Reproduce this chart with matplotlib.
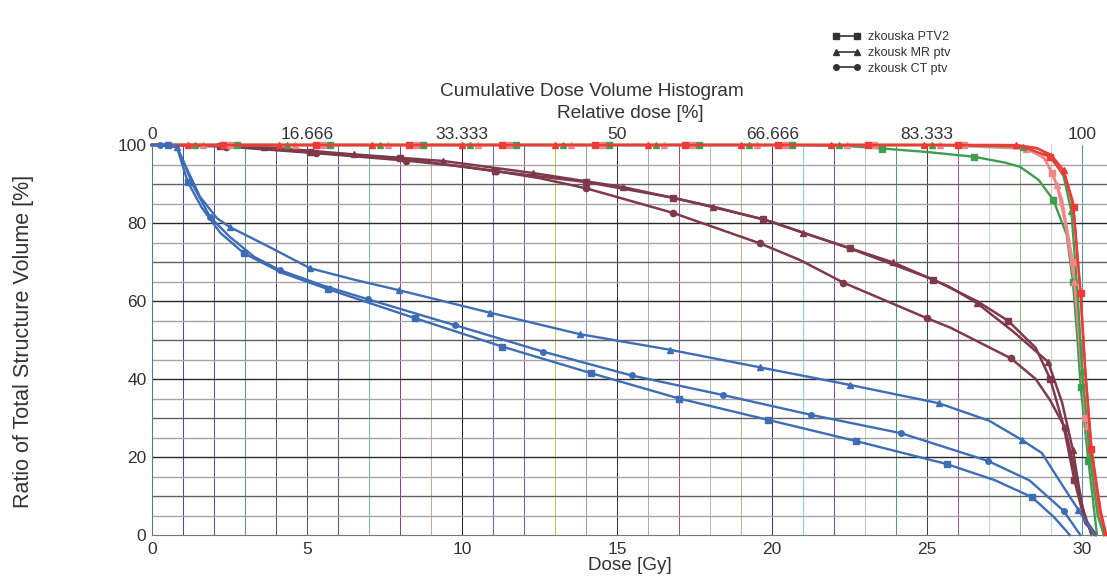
import matplotlib
matplotlib.use('Agg')
import matplotlib.pyplot as plt
from matplotlib.lines import Line2D

plt.rcParams['font.family'] = ['Liberation Sans', 'DejaVu Sans']

# osy
dose_ticks = [0, 5, 10, 15, 20, 25, 30]
rel_labels = ['0', '16.666', '33.333', '50', '66.666', '83.333', '100']
vol_ticks = [0, 20, 40, 60, 80, 100]
legend_names = ['zkouska PTV2', 'zkousk MR ptv', 'zkousk CT ptv']

# modre krivky (organ)
blue_tri_d = [0, 0.3, 0.55, 0.8, 1.0, 1.55, 2.1, 2.5, 3.7, 5.1, 6.5, 7.95, 10.9, 13.8, 16.7, 19.6,
              22.5, 25.37, 27.0, 28.05, 28.7, 29.3, 29.88, 30.4]
blue_tri_v = [100, 100, 100, 99.5, 96, 86.7, 81.2, 79, 74.2, 68.4, 65.5, 62.8, 57.0, 51.5, 47.5, 43.0,
              38.5, 33.8, 29.3, 24.4, 21.0, 13.5, 6.4, 0]
blue_tri_mk = [3, 7, 9, 11, 12, 13, 14, 15, 16, 17, 19, 22]

blue_ci_d = [0, 0.25, 0.8, 1.0, 1.3, 1.87, 2.5, 3.3, 4.13, 5.5, 6.98, 9.77, 12.62, 15.47, 18.41, 21.26,
             24.16, 26.96, 28.3, 29.4, 29.94]
blue_ci_v = [100, 100, 99.5, 96, 90, 81.6, 76.5, 71.3, 67.9, 64, 60.4, 53.8, 47.0, 40.9, 35.9, 30.8,
             26.1, 19.0, 14.0, 6.2, 0]
blue_ci_mk = [1, 5, 8, 10, 11, 12, 13, 14, 15, 16, 17, 19]

blue_sq_d = [0, 0.5, 0.8, 1.15, 1.6, 2.2, 2.97, 4.2, 5.69, 8.48, 11.3, 14.16, 17.0, 19.88, 22.7, 25.63,
             27.2, 28.38, 29.1, 29.6]
blue_sq_v = [100, 100, 99.5, 90.6, 84, 77.5, 72.2, 67.2, 63.0, 55.6, 48.3, 41.5, 35.0, 29.5, 24.1, 18.2,
             14.0, 9.7, 4.5, 0]
blue_sq_mk = [1, 3, 6, 8, 9, 10, 11, 12, 13, 14, 15, 17]

# hnede krivky
brA_d = [0, 1.5, 3.6, 6.5, 9.4, 12.3, 15.2, 18.1, 20.0, 21.0, 23.9, 25.7, 26.6, 27.8, 28.9, 29.35,
         29.7, 30.0, 30.3]
brA_v = [100, 100, 99.5, 97.6, 95.9, 92.8, 89.2, 84.2, 80.3, 77.5, 69.9, 63.7, 59.5, 52.0, 44.4, 34.0,
         21.8, 7.3, 0]
brA_mk = [2, 3, 4, 5, 6, 7, 9, 10, 12, 14, 16]

brB_d = [0, 2.2, 5.1, 8.0, 11.06, 14.0, 16.8, 19.7, 22.5, 25.2, 26.6, 27.6, 28.5, 28.97, 29.4, 29.75,
         30.1, 30.45]
brB_v = [100, 99.8, 98.2, 96.6, 93.3, 90.5, 86.5, 81.0, 73.5, 65.5, 60.0, 55.0, 48.0, 40.0, 28.0, 14.0,
         3.0, 0]
brB_mk = [1, 2, 3, 4, 5, 6, 7, 8, 9, 11, 13, 15]

brC_d = [0, 2.4, 5.3, 8.2, 10.0, 11.1, 12.5, 14.0, 16.8, 19.6, 20.9, 22.3, 24.99, 25.74, 27.7, 28.5,
         28.97, 29.45, 29.8, 30.1, 30.45]
brC_v = [100, 99.6, 97.9, 96.0, 94.5, 93.3, 91.5, 88.9, 82.6, 74.8, 70.5, 64.7, 55.6, 53.2, 45.3, 40.0,
         34.5, 27.4, 15.0, 4.0, 0]
brC_mk = [1, 2, 3, 5, 7, 8, 9, 11, 12, 14, 17]

# PTV krivky
red_tri_d = [0, 1.15, 4.1, 7.1, 10.0, 13.0, 16.0, 19.0, 21.9, 24.9, 27.85, 28.5, 29.0, 29.4, 29.7,
             29.94, 30.1, 30.3, 30.55, 30.75]
red_tri_v = [100, 100, 100, 100, 100, 100, 100, 100, 100, 100, 100, 99.3, 97.5, 93.5, 85.5,
             62.4, 42.0, 22.0, 7.0, 0]
red_tri_mk = [1, 2, 3, 4, 5, 6, 7, 8, 9, 10, 13, 15, 17]

green_tri_d = [0, 1.4, 4.35, 7.35, 10.25, 13.25, 16.25, 19.25, 22.15, 25.15, 28.1, 28.6, 29.0, 29.4,
               29.65, 29.85, 30.0, 30.25, 30.5, 30.7]
green_tri_v = [100, 100, 100, 100, 100, 100, 100, 100, 100, 100, 99.6, 99.0, 97.0, 92.0,
               83.0, 62.0, 42.0, 20.0, 5.0, 0]
green_tri_mk = [1, 2, 3, 4, 5, 6, 7, 8, 9, 10, 14, 16, 17]

pink_tri_d = [0, 1.65, 4.6, 7.6, 10.5, 13.5, 16.5, 19.5, 22.4, 25.4, 28.2, 28.8, 29.18, 29.45, 29.75,
              29.95, 30.15, 30.45, 30.7]
pink_tri_v = [100, 100, 100, 100, 100, 100, 100, 100, 100, 100, 99.0, 96.5, 89.7, 80.0, 65.0,
              48.0, 28.0, 9.0, 0]
pink_tri_mk = [1, 2, 3, 4, 5, 6, 7, 8, 9, 10, 12, 14, 16]

red_sq_d = [0, 2.3, 5.3, 8.3, 11.3, 14.3, 17.2, 20.2, 23.1, 26.0, 28.0, 28.95, 29.45, 29.72, 29.95,
            30.1, 30.3, 30.6, 30.78]
red_sq_v = [100, 100, 100, 100, 100, 100, 100, 100, 100, 100, 99.8, 97.0, 92.0, 84.0, 62.0,
            42.0, 22.0, 6.0, 0]
red_sq_mk = [1, 2, 3, 4, 5, 6, 7, 8, 9, 11, 13, 14, 16]

pink_sq_d = [0, 2.5, 5.5, 8.5, 11.5, 14.5, 17.4, 20.4, 23.3, 26.2, 27.4, 28.2, 28.7, 29.04, 29.35,
             29.7, 29.9, 30.1, 30.4, 30.7]
pink_sq_v = [100, 100, 100, 100, 100, 100, 100, 100, 100, 100, 100, 99.3, 97.5, 92.9, 86.0,
             70.0, 50.0, 30.0, 10.0, 0]
pink_sq_mk = [1, 2, 3, 4, 5, 6, 7, 8, 9, 13, 15, 17]

green_sq_d = [0, 2.75, 5.75, 8.75, 11.75, 14.75, 17.65, 20.65, 22.5, 23.55, 25.0, 26.5, 27.5, 28.0,
              28.6, 29.07, 29.5, 29.7, 29.85, 29.95, 30.2, 30.47]
green_sq_v = [100, 100, 100, 100, 100, 100, 100, 100, 99.7, 99.1, 98.2, 97.0, 95.5, 94.4,
              91.0, 85.9, 77.0, 65.0, 50.0, 38.0, 19.0, 0.5]
green_sq_mk = [1, 2, 3, 4, 5, 6, 7, 9, 11, 15, 17, 19, 20]

BLUE = '#3d6db5'
BROWN = '#7e3a4a'
RED = '#ee3b36'
PINK = '#f4868a'
GREEN = '#3e9e4e'
TXT = '#333333'

# barvy svislych car mrizky (0..30 Gy)
vgrid_colors = ['#4a7f9a', '#4b4fa8', '#5a4f9a', '#5c9a86', '#6a4a9a', '#3f5f7a', '#6c4fa6',
                '#7fb3a8', '#9a3f8a', '#c8a890', '#222222', '#5a6fc0', '#7a5aa8', '#b8c86a',
                '#8aa0d8', '#2f3a2a', '#9ab8a0', '#a0508f', '#a8c8a8', '#c8b090', '#4a2f6a',
                '#8ad0e0', '#7a4fa0', '#b0d0c0', '#5a9a6a', '#3a4a3a', '#9a5aa0', '#b8d8d0',
                '#8ac080', '#c0d8c0', '#5a90b0']

fig = plt.figure(figsize=(11.07, 5.79), dpi=100)
ax = fig.add_axes([152/1107, 44/579, 955/1107, 390/579])
ax.set_xlim(0, 30.8)
ax.set_ylim(0, 100)

for i in range(1, 31):
    ax.axvline(i, color=vgrid_colors[i], lw=0.75, zorder=0)
for v in range(5, 100, 5):
    if v % 20 == 0:
        c = '#2a2a2a'
    elif v % 10 == 0:
        c = '#606060'
    else:
        c = '#a5a5a5'
    ax.axhline(v, color=c, lw=1.0, zorder=0)

def dvh(d, v, color, marker, mk, lw=1.7, ms=4.5, z=2):
    ax.plot(d, v, color=color, lw=lw, zorder=z, clip_on=False)
    ax.plot(d, v, ls='none', marker=marker, ms=ms, color=color, markevery=mk,
            zorder=z + 0.5, clip_on=False)

dvh(brC_d, brC_v, BROWN, 'o', brC_mk, lw=1.8)
dvh(brB_d, brB_v, BROWN, 's', brB_mk, lw=1.8)
dvh(brA_d, brA_v, BROWN, '^', brA_mk, lw=1.8)

dvh(green_sq_d, green_sq_v, GREEN, 's', green_sq_mk, z=3)
dvh(pink_sq_d, pink_sq_v, PINK, 's', pink_sq_mk, z=3)
dvh(pink_tri_d, pink_tri_v, PINK, '^', pink_tri_mk, z=3)
dvh(green_tri_d, green_tri_v, GREEN, '^', green_tri_mk, z=3)
dvh(red_sq_d, red_sq_v, RED, 's', red_sq_mk, z=4)
dvh(red_tri_d, red_tri_v, RED, '^', red_tri_mk, z=4)

dvh(blue_sq_d, blue_sq_v, BLUE, 's', blue_sq_mk, ms=4, z=5)
dvh(blue_ci_d, blue_ci_v, BLUE, 'o', blue_ci_mk, ms=4, z=5)
dvh(blue_tri_d, blue_tri_v, BLUE, '^', blue_tri_mk, ms=5, z=5)

ax.set_xticks(dose_ticks)
ax.set_yticks(vol_ticks)
ax.tick_params(length=0, labelsize=12.5, labelcolor=TXT)
ax.tick_params(axis='x', pad=5)
ax.tick_params(axis='y', pad=4)
ax.spines['right'].set_visible(False)
ax.spines['top'].set_visible(False)
ax.spines['left'].set_color('#4a7f9a')
ax.spines['bottom'].set_color('#777777')
ax.set_xlabel('Dose [Gy]', fontsize=13.6, color=TXT, labelpad=0)

top = ax.secondary_xaxis('top')
top.set_xticks(dose_ticks, rel_labels)
top.tick_params(length=0, labelsize=12.5, labelcolor=TXT, pad=2)
top.spines['top'].set_visible(False)

fig.text(592/1107, 1 - 91/579, 'Cumulative Dose Volume Histogram', fontsize=13.7,
         color=TXT, ha='center', va='center')
fig.text(630/1107, 1 - 113/579, 'Relative dose [%]', fontsize=13.7,
         color=TXT, ha='center', va='center')
fig.text(24/1107, 1 - 341/579, 'Ratio of Total Structure Volume [%]', fontsize=15.5,
         color=TXT, ha='center', va='center', rotation=90)

handles = [Line2D([], [], color='#333333', lw=1.2, marker=m, ms=4) for m in ['s', '^', 'o']]
fig.legend(handles, legend_names, loc='upper left', bbox_to_anchor=(826/1107, 1 - 25/579),
           frameon=False, fontsize=9, numpoints=2, handlelength=2.3, handletextpad=0.6,
           labelspacing=0.3, borderpad=0, labelcolor=TXT)

fig.savefig('out.png', dpi=100)
